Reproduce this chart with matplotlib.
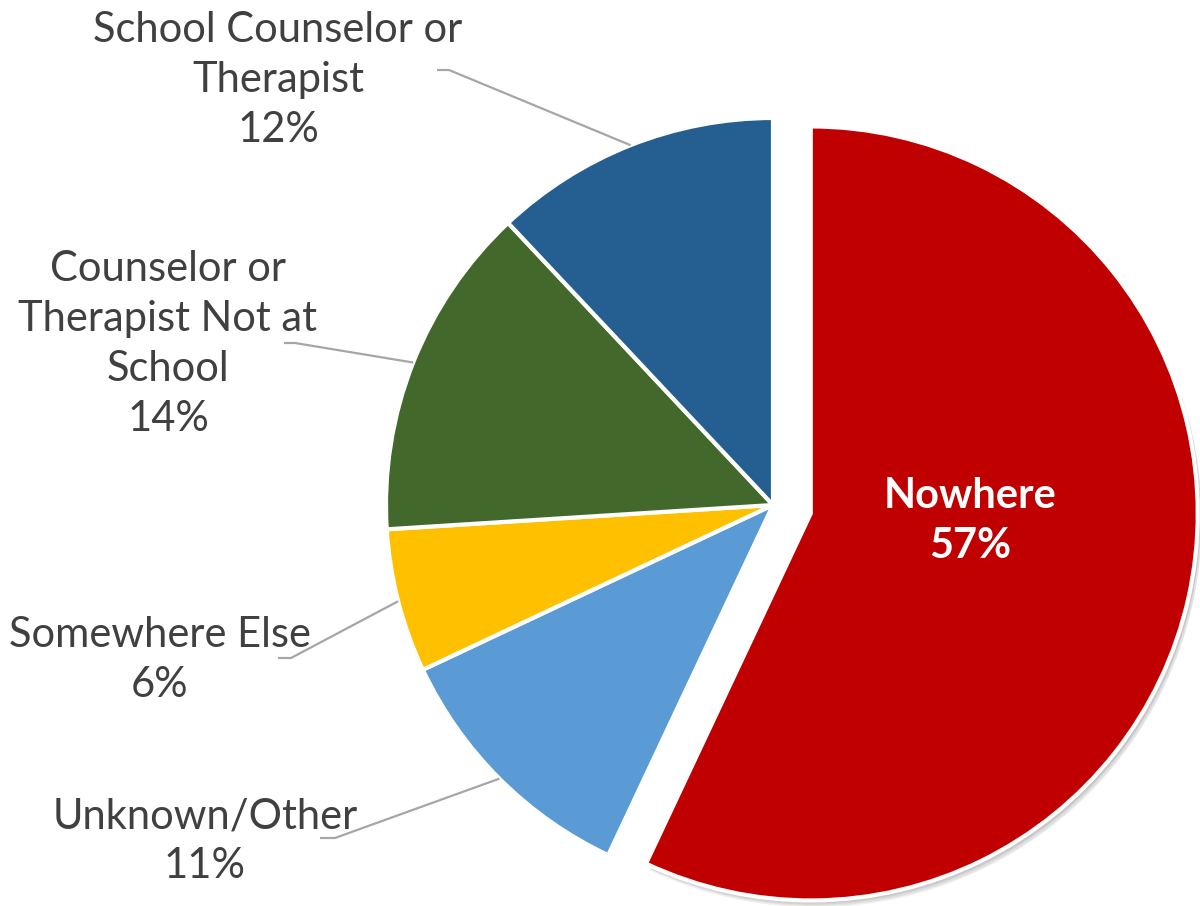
import numpy as np
import matplotlib
matplotlib.use("Agg")
import matplotlib.pyplot as plt
import matplotlib.patheffects as pe

# Where students went for help
categories = ["Nowhere", "Unknown/Other", "Somewhere Else",
              "Counselor or\nTherapist Not at\nSchool", "School Counselor or\nTherapist"]
shares = [57, 11, 6, 14, 12]
colors = ["#C00000", "#5B9BD5", "#FFC000", "#43682B", "#255E91"]
explode = [0.1, 0, 0, 0, 0]

W, H = 1200, 906
CX, CY, R = 773, 505, 387   # pie centre and radius in pixels


def to_data(px, py):
    """Pixel position (origin top-left) to pie data units."""
    return (px - CX) / R, (CY - py) / R


plt.rcParams["font.family"] = ["Lato", "DejaVu Sans"]
fig = plt.figure(figsize=(W / 100, H / 100), dpi=100)
ax = fig.add_axes([0, 0, 1, 1])

wedges, _ = ax.pie(shares, colors=colors, startangle=90, counterclock=False,
                   explode=explode, radius=1.0,
                   wedgeprops=dict(edgecolor="white", linewidth=3))
ax.set_xlim(*sorted([to_data(0, 0)[0], to_data(W, 0)[0]]))
ax.set_ylim(to_data(0, H)[1], to_data(0, 0)[1])
ax.set_aspect("equal")
ax.axis("off")

# soft drop shadow under the highlighted slice
shadow = [pe.SimplePatchShadow(offset=(dx, -dy), shadow_rgbFace="black", alpha=0.06)
          for dx, dy in [(1, 1), (2, 2), (2, 3), (3, 4), (3, 5)]]
wedges[0].set_path_effects(shadow + [pe.Normal()])

text_color = "#404040"
line_color = "#A6A6A6"
fs = 30
lsp = 1.38

# Outside labels: (text centre px, leader elbow start px, elbow end px)
outside = {
    4: ((278, 80), (437, 70), (449, 70)),
    3: ((168, 344), (284, 343), (295, 343)),
    2: ((160, 660), (278, 658), (291, 658)),
    1: ((205, 841), (320, 838), (335, 838)),
}
for i, (tpos, e0, e1) in outside.items():
    w = wedges[i]
    mid = np.deg2rad(0.5 * (w.theta1 + w.theta2))
    cx, cy = w.center
    ax_, ay_ = cx + w.r * np.cos(mid), cy + w.r * np.sin(mid)
    p0, p1 = to_data(*e0), to_data(*e1)
    ax.plot([p0[0], p1[0], ax_], [p0[1], p1[1], ay_], color=line_color,
            lw=1.6, solid_capstyle="butt", zorder=3)
    tx, ty = to_data(*tpos)
    ax.text(tx, ty, f"{categories[i]}\n{shares[i]}%", ha="center", va="center",
            fontsize=fs, color=text_color, linespacing=lsp)

# Label inside the highlighted slice
tx, ty = to_data(970, 521)
ax.text(tx, ty, f"{categories[0]}\n{shares[0]}%", ha="center", va="center",
        fontsize=fs, color="white", fontweight="bold", linespacing=lsp)

fig.savefig("out.png", dpi=100, facecolor="white")
